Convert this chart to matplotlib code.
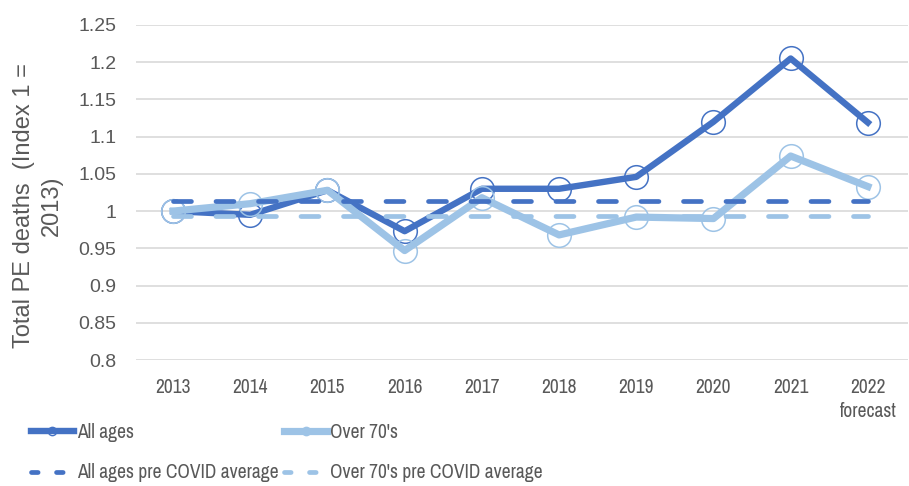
import matplotlib
matplotlib.use("Agg")
import matplotlib.pyplot as plt
from matplotlib.lines import Line2D

years = ["2013", "2014", "2015", "2016", "2017", "2018", "2019", "2020", "2021", "2022\nforecast"]
all_ages = [1.000, 0.995, 1.028, 0.973, 1.030, 1.030, 1.046, 1.120, 1.205, 1.119]
over_70 = [1.000, 1.010, 1.028, 0.947, 1.018, 0.968, 0.992, 0.990, 1.074, 1.033]
all_avg = [1.0136] * 10
over_avg = [0.9935] * 10
yticks = [0.8, 0.85, 0.9, 0.95, 1.0, 1.05, 1.1, 1.15, 1.2, 1.25]
ytick_labels = ["0.8", "0.85", "0.9", "0.95", "1", "1.05", "1.1", "1.15", "1.2", "1.25"]

DARK = "#4472C4"
LIGHT = "#9DC3E6"
TXT = "#595959"
GRID = "#D9D9D9"

plt.rcParams['font.family'] = ['Liberation Sans', 'DejaVu Sans']
narrow = ['Archivo Narrow', 'Liberation Sans', 'DejaVu Sans']

fig = plt.figure(figsize=(9.09, 4.86), dpi=100)
ax = fig.add_axes([136/909, 1 - 360/486, 772/909, 335/486])

x = list(range(len(years)))
ax.plot(x, all_ages, color=DARK, lw=4.6, marker='o', ms=17, mfc='none',
        mec=DARK, mew=1.1, solid_joinstyle='round', zorder=3)
ax.plot(x, over_70, color=LIGHT, lw=5.2, marker='o', ms=17, mfc='none',
        mec=LIGHT, mew=1.1, solid_joinstyle='round', zorder=4)
ax.plot(x, all_avg, color=DARK, lw=3.4, dashes=(3.8, 5.2), dash_capstyle='round', zorder=5)
ax.plot(x, over_avg, color=LIGHT, lw=3.4, dashes=(3.8, 5.2), dash_capstyle='round', zorder=6)

ax.set_xlim(-0.48, 9.52)
ax.set_ylim(0.8, 1.25)
ax.set_yticks(yticks)
ax.set_yticklabels(ytick_labels, fontsize=14, color=TXT)
ax.set_xticks(x)
ax.set_xticklabels(years, fontsize=14, color=TXT, family=narrow, linespacing=1.35)
ax.tick_params(axis='both', length=0)
ax.tick_params(axis='y', pad=14)
ax.tick_params(axis='x', pad=13)
ax.grid(axis='y', color=GRID, lw=1.2)
ax.set_axisbelow(True)
for s in ax.spines.values():
    s.set_visible(False)

fig.text(38/909, 1 - 206/486, "Total PE deaths  (Index 1 =\n2013)", rotation=90,
         ha='center', va='center', fontsize=17, color=TXT, linespacing=1.35,
         multialignment='center')

handles = [
    Line2D([], [], color=DARK, lw=4.6, marker='o', ms=6, mfc='none', mec=DARK, mew=1.0),
    Line2D([], [], color=DARK, lw=3.4, dashes=(1.4, 3.9), dash_capstyle='round'),
    Line2D([], [], color=LIGHT, lw=5.2, marker='o', ms=6, mfc='none', mec=LIGHT, mew=1.0),
    Line2D([], [], color=LIGHT, lw=3.4, dashes=(1.4, 3.9), dash_capstyle='round'),
]
labels = ["All ages", "All ages pre COVID average", "Over 70's", "Over 70's pre COVID average"]
leg = fig.legend(handles, labels, ncol=2, loc='upper left',
                 bbox_to_anchor=(31/909, 1 - 423/486), frameon=False,
                 prop={'family': narrow, 'size': 14}, handlelength=2.2,
                 handletextpad=0.15, columnspacing=0.3, labelspacing=1.1,
                 borderaxespad=0, borderpad=0)
for t in leg.get_texts():
    t.set_color(TXT)

fig.savefig("out.png", dpi=100)
